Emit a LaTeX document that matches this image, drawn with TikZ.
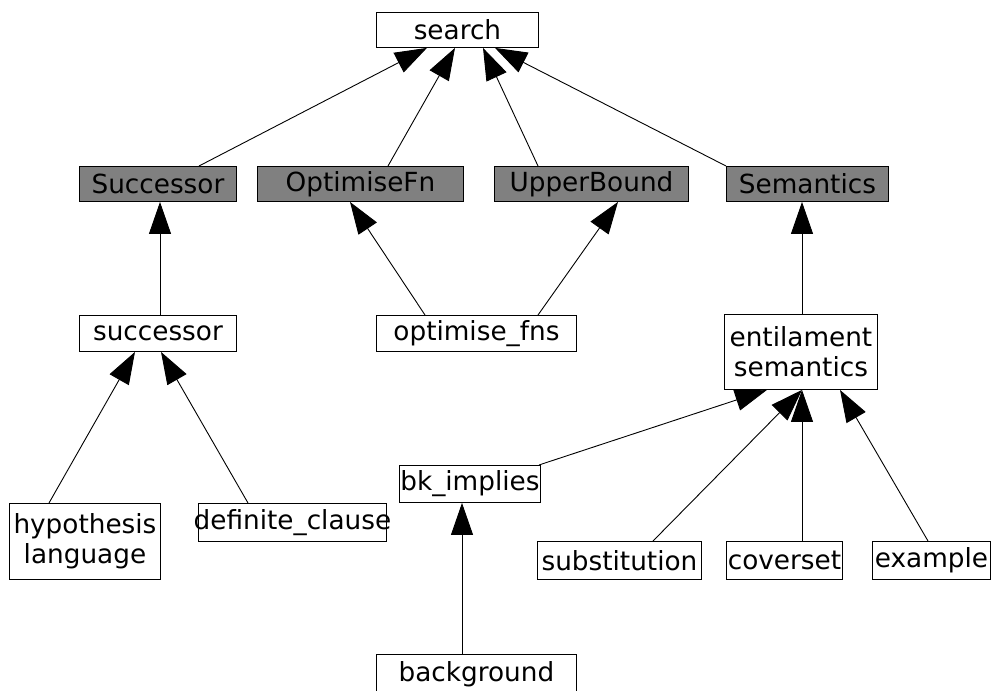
\documentclass[tikz,border=0pt]{standalone}
\usepackage{fontspec}
\setmainfont{DejaVu Sans}
\usetikzlibrary{arrows.meta}
\begin{document}
\begin{tikzpicture}[x=1pt,y=-1pt,
  box/.style={draw=black,line width=0.9pt,fill=white,anchor=north west,inner sep=0pt,
    align=center,font=\fontsize{26.3}{30}\selectfont},
  gbox/.style={box,fill=gray},
  arr/.style={line width=0.9pt,-{Triangle[length=32pt,width=22pt]}}]
\useasboundingbox (0,0) rectangle (994,691);
\clip (0,0) rectangle (994,691);
\node[box,minimum width=162pt,minimum height=35pt] (search) at (376,12) {search};
\node[gbox,minimum width=157pt,minimum height=35pt] (Succ) at (79,166) {Successor};
\node[gbox,minimum width=206pt,minimum height=35pt] (Opt) at (257,166) {OptimiseFn};
\node[gbox,minimum width=194pt,minimum height=35pt] (Upper) at (494,166) {UpperBound};
\node[gbox,minimum width=162pt,minimum height=35pt] (Sem) at (726,166) {Semantics};
\node[box,minimum width=157pt,minimum height=36pt] (succ) at (79,315) {successor};
\node[box,minimum width=200pt,minimum height=36pt] (optf) at (376,315) {optimise\_fns};
\node[box,minimum width=153pt,minimum height=75pt] (ent) at (724,314) {entilament\\semantics};
\node[box,minimum width=141pt,minimum height=37pt] (bk) at (399,465) {bk\_implies};
\node[box,minimum width=151pt,minimum height=76pt] (hyp) at (9,503) {hypothesis\\language};
\node[box,minimum width=188pt,minimum height=38pt] (def) at (198,503) {\makebox[0pt]{definite\_clause}};
\node[box,minimum width=164pt,minimum height=38pt] (subst) at (537,541) {substitution};
\node[box,minimum width=116pt,minimum height=38pt] (cov) at (726,541) {coverset};
\node[box,minimum width=118pt,minimum height=38pt] (ex) at (872,541) {example};
\node[box,minimum width=200pt,minimum height=40pt] (bg) at (376,654) {background};
\draw[arr] ([xshift=120pt]Succ.north west) -- ([xshift=51pt]search.south west);
\draw[arr] ([xshift=131pt]Opt.north west) -- ([xshift=79pt]search.south west);
\draw[arr] ([xshift=44pt]Upper.north west) -- ([xshift=107pt]search.south west);
\draw[arr] (Sem.north west) -- ([xshift=119pt]search.south west);
\draw[arr] ([xshift=81pt]succ.north west) -- ([xshift=81pt]Succ.south west);
\draw[arr] ([xshift=49pt]optf.north west) -- ([xshift=93pt]Opt.south west);
\draw[arr] ([xshift=162pt]optf.north west) -- ([xshift=124pt]Upper.south west);
\draw[arr] ([xshift=78pt]ent.north west) -- ([xshift=76pt]Sem.south west);
\draw[arr] ([xshift=40pt]hyp.north west) -- ([xshift=56pt]succ.south west);
\draw[arr] ([xshift=50pt]def.north west) -- ([xshift=82pt]succ.south west);
\draw[arr] ([xshift=-2pt]bk.north east) -- ([xshift=43pt]ent.south west);
\draw[arr] ([xshift=116pt]subst.north west) -- ([xshift=78pt]ent.south west);
\draw[arr] ([xshift=76pt]cov.north west) -- ([xshift=78pt]ent.south west);
\draw[arr] ([xshift=56pt]ex.north west) -- ([xshift=116pt]ent.south west);
\draw[arr] ([xshift=86pt]bg.north west) -- ([xshift=63pt]bk.south west);
\end{tikzpicture}
\end{document}
